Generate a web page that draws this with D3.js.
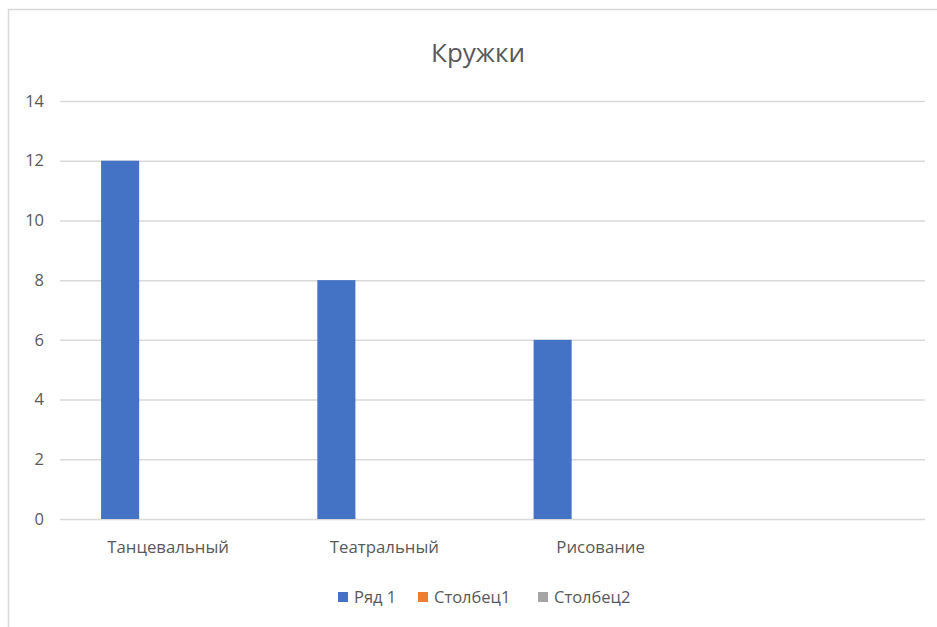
<!DOCTYPE html>
<html>
<head>
<meta charset="utf-8">
<script src="https://cdn.jsdelivr.net/npm/d3@7"></script>
<style>
  html, body { margin: 0; padding: 0; background: #fff; }
  svg { display: block; font-family: "Open Sans", "Noto Sans", sans-serif; }
</style>
</head>
<body>
<svg id="chart" width="937" height="627"></svg>
<script>
// Clubs and the number of participants
const categories = ["Танцевальный", "Театральный", "Рисование", ""];
const seriesNames = ["Ряд 1", "Столбец1", "Столбец2"];
const seriesColors = ["#4472C4", "#ED7D31", "#A5A5A5"];
const row1 = [12, 8, 6, null];
const column1 = [null, null, null, null];
const column2 = [null, null, null, null];
const yTicks = [0, 2, 4, 6, 8, 10, 12, 14];
const titleText = "Кружки";

const seriesValues = [row1, column1, column2];

const svg = d3.select("#chart");
const W = 937, H = 627;
const plot = { left: 60, right: 925, top: 101, bottom: 519 };
const labelFont = "\"Open Sans\", \"Noto Sans\", sans-serif";

// outer frame (only top and left edges fall inside the view)
svg.append("rect")
  .attr("x", 8.5).attr("y", 9.5)
  .attr("width", W + 20).attr("height", H + 20)
  .attr("fill", "none").attr("stroke", "#D9D9D9").attr("stroke-width", 1.5);

const y = d3.scaleLinear().domain([0, 14]).range([plot.bottom, plot.top]);
const x0 = d3.scaleBand().domain(categories.map((c, i) => i)).range([plot.left, plot.right]).padding(0);
const bw = x0.bandwidth();
const x1 = d3.scaleBand().domain(seriesNames)
  .range([bw * 0.19, bw * 0.19 + bw * 0.176 * seriesNames.length]).padding(0);

// title
svg.append("text")
  .attr("x", 478).attr("y", 62)
  .attr("text-anchor", "middle")
  .attr("font-size", 26)
  .attr("fill", "#595959")
  .text(titleText);

// gridlines + y labels
const yAxis = d3.axisLeft(y).tickValues(yTicks).tickSize(-(plot.right - plot.left)).tickPadding(16);
const gy = svg.append("g").attr("transform", `translate(${plot.left},0)`).call(yAxis);
gy.select(".domain").remove();
gy.selectAll(".tick line").attr("stroke", "#D9D9D9").attr("stroke-width", 1.5);
gy.selectAll(".tick text").attr("fill", "#595959").attr("font-size", 16.5).attr("font-family", labelFont);

// bars
const groups = svg.append("g").selectAll("g")
  .data(categories.map((c, i) => i))
  .join("g")
  .attr("transform", i => `translate(${x0(i)},0)`);

groups.selectAll("rect")
  .data(i => seriesNames.map((s, k) => ({ s, k, v: seriesValues[k][i] })).filter(d => d.v != null))
  .join("rect")
  .attr("x", d => x1(d.s))
  .attr("width", x1.bandwidth())
  .attr("y", d => y(d.v))
  .attr("height", d => y(0) - y(d.v))
  .attr("fill", d => seriesColors[d.k]);

// category labels
const xAxis = d3.axisBottom(x0).tickFormat(i => categories[i]).tickSize(0).tickPadding(22);
const gx = svg.append("g").attr("transform", `translate(0,${plot.bottom})`).call(xAxis);
gx.select(".domain").remove();
gx.selectAll(".tick text").attr("fill", "#595959").attr("font-size", 16.8).attr("font-family", labelFont);

// legend
const legendX = [338, 418, 538];
const lg = svg.append("g").selectAll("g").data(seriesNames).join("g")
  .attr("transform", (d, i) => `translate(${legendX[i]},592)`);
lg.append("rect").attr("width", 10).attr("height", 10).attr("fill", (d, i) => seriesColors[i]);
lg.append("text").attr("x", 16).attr("y", 11)
  .attr("font-size", 16.5).attr("fill", "#595959").text(d => d);
</script>
</body>
</html>
